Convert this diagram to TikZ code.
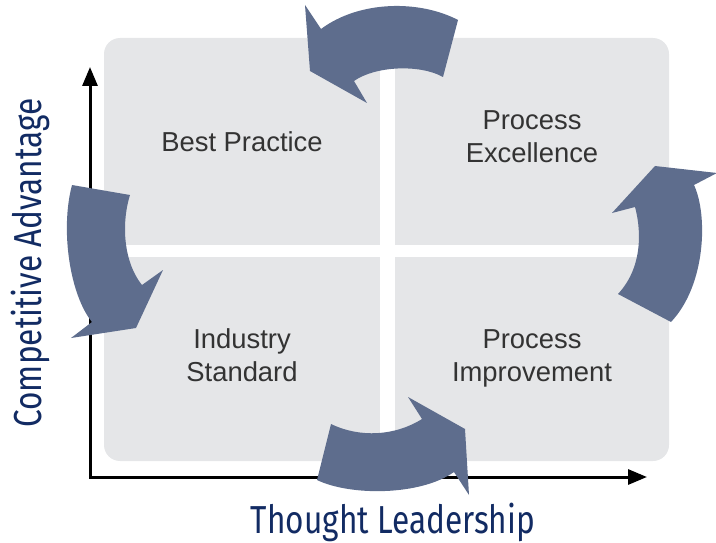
\documentclass[tikz,border=0pt]{standalone}
\usepackage{fontspec}
\setmainfont{Liberation Sans}
\newfontfamily\axisfont{Fira Sans}[FakeStretch=0.81]
\usetikzlibrary{arrows.meta}
\definecolor{cyclecol}{HTML}{5E6D8D}
\definecolor{panelgray}{HTML}{E5E6E8}
\definecolor{axisnavy}{HTML}{122B63}
\definecolor{labelgray}{HTML}{333333}

\begin{document}
\begin{tikzpicture}
        [
            x=1pt, y=-1pt,
            quad/.style={text=labelgray, align=center, font=\fontsize{27.4}{33}\selectfont},
            axislabel/.style={text=axisnavy, font=\axisfont\fontsize{39}{44}\selectfont},
            cyclearrow/.style={fill=cyclecol},
            axisline/.style={line width=3pt, line cap=rect, -{Triangle[length=19pt,width=15pt]}},
        ]
        \useasboundingbox (0,0) rectangle (716,543);
        % panel and the white cross
        \fill[panelgray, rounded corners=16pt] (104,38) rectangle (669,461);
        \fill[white] (380,38) rectangle (395,461);
        \fill[white] (104,245) rectangle (669,257);
        % axes
        \coordinate (origin) at (90,477);
        \coordinate (ytip) at (90,67);
        \coordinate (xtip) at (647,477);
        \draw[axisline] (origin) -- (ytip);
        \draw[axisline] (origin) -- (xtip);
        % quadrants
        \node[quad] (best) at (242,142) {Best Practice};
        \node[quad] (excellence) at (532,137) {Process\\Excellence};
        \node[quad] (industry) at (242,355.5) {Industry\\Standard};
        \node[quad] (improvement) at (532,358) {Process\\Improvement};
        \node[axislabel, rotate=90] (yname) at (30,263) {Competitive Advantage};
        \node[axislabel] (xname) at (393,522) {Thought Leadership};
        % cycle arrows
        \fill[cyclearrow] (310,71) -- (367,103) -- (354,81)
            .. controls (375,66) and (420,64) .. (443,77)
            -- (458,20)
            .. controls (420,0) and (360,0) .. (321,29)
            -- (305,5) -- cycle;
        \fill[cyclearrow] (655,166) -- (717,173) -- (694,185)
            .. controls (708,215) and (706,285) .. (671,322)
            -- (618,294)
            .. controls (645,265) and (640,225) .. (635,207)
            -- (612,213) -- cycle;
        \fill[cyclearrow] (136,328) -- (71,338) -- (92,322)
            .. controls (70,295) and (60,230) .. (72,185)
            -- (130,195)
            .. controls (122,220) and (122,260) .. (142,285)
            -- (163,270) -- cycle;
        \fill[cyclearrow] (465,429) -- (469,495) -- (454,472)
            .. controls (420,496) and (350,496) .. (317,480)
            -- (331,424)
            .. controls (360,438) and (395,436) .. (422,419)
            -- (408,397) -- cycle;
\end{tikzpicture}
\end{document}
